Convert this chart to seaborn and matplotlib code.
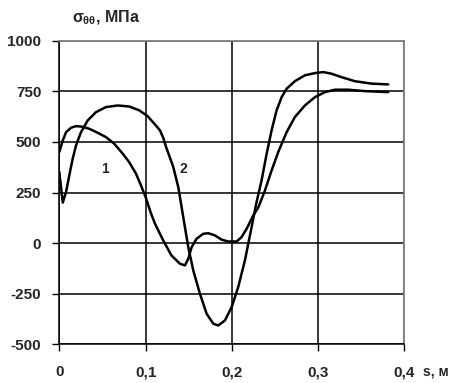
import matplotlib
matplotlib.use("Agg")
import matplotlib.pyplot as plt
import seaborn as sns
import pandas as pd

# Curve 1: hoop stress along the coordinate s
s_curve1 = [0.000, 0.004, 0.0078, 0.0136, 0.0194, 0.0251, 0.0348, 0.0445, 0.054, 0.0637,
            0.0735, 0.081, 0.0889, 0.0947, 0.1005, 0.106, 0.1109, 0.1205, 0.130, 0.1399,
            0.1457, 0.1495, 0.1534, 0.1592, 0.1669, 0.1727, 0.1804, 0.1882, 0.1958, 0.2056,
            0.2113, 0.2172, 0.2248, 0.2306, 0.2384, 0.2461, 0.2538, 0.2635, 0.2731, 0.2847,
            0.2963, 0.3079, 0.3195, 0.3349, 0.3542, 0.3813]
sigma_curve1 = [450, 507, 548, 570, 578, 576, 565, 545, 524, 491,
                442, 400, 343, 285, 222, 150, 96, 13, -61, -102,
                -110, -77, -20, 22, 46, 49, 38, 17, 8, 8,
                30, 71, 137, 175, 260, 359, 450, 548, 623, 680,
                721, 746, 758, 758, 751, 746]

# Curve 2
s_curve2 = [0.000, 0.004, 0.0078, 0.0116, 0.0155, 0.0194, 0.0251, 0.0329, 0.0425, 0.054,
            0.0677, 0.081, 0.0927, 0.1024, 0.112, 0.1167, 0.1205, 0.1240, 0.132, 0.138,
            0.1437, 0.1495, 0.1553, 0.163, 0.1708, 0.1785, 0.1842, 0.192, 0.1998, 0.2074,
            0.2152, 0.2229, 0.2287, 0.2345, 0.2403, 0.2461, 0.2519, 0.2577, 0.2635, 0.2731,
            0.2847, 0.2963, 0.306, 0.3156, 0.3272, 0.3426, 0.362, 0.3813]
sigma_curve2 = [351, 200, 252, 335, 417, 483, 548, 606, 647, 672,
                680, 675, 656, 627, 581, 557, 520, 472, 378, 275,
                128, -20, -135, -250, -349, -398, -407, -382, -316, -217,
                -85, 79, 203, 310, 440, 557, 656, 721, 763, 800,
                829, 840, 845, 837, 820, 800, 788, 784]

x_ticks = [0.0, 0.1, 0.2, 0.3, 0.4]
x_tick_labels = ["0", "0,1", "0,2", "0,3", "0,4"]
y_ticks = [-500, -250, 0, 250, 500, 750, 1000]
y_tick_labels = ["-500", "-250", "0", "250", "500", "750", "1000"]

curve_labels = ["1", "2"]
curve_label_pos = [(0.053, 368), (0.1437, 368)]

df = pd.concat([
    pd.DataFrame({"s": s_curve1, "sigma": sigma_curve1, "curve": "1"}),
    pd.DataFrame({"s": s_curve2, "sigma": sigma_curve2, "curve": "2"}),
], ignore_index=True)

sns.set_theme(style="white")
plt.rcParams["font.family"] = ["Liberation Sans", "DejaVu Sans"]
plt.rcParams["font.weight"] = "bold"
plt.rcParams["mathtext.fontset"] = "custom"
plt.rcParams["mathtext.rm"] = "Liberation Sans:bold"
plt.rcParams["mathtext.it"] = "Liberation Sans:bold"
plt.rcParams["mathtext.bf"] = "Liberation Sans:bold"
plt.rcParams["lines.solid_joinstyle"] = "round"
plt.rcParams["lines.solid_capstyle"] = "round"

fig = plt.figure(figsize=(4.62, 3.83), dpi=100)
ax = fig.add_axes([0.1284, 0.1010, 0.7468, 0.7927])

sns.lineplot(data=df, x="s", y="sigma", units="curve", estimator=None, sort=False,
             color="black", linewidth=1.8, ax=ax, legend=False)

ax.set_xlim(0, 0.4)
ax.set_ylim(-500, 1000)
ax.set_xticks(x_ticks)
ax.set_xticklabels(x_tick_labels, fontsize=11, fontweight="bold")
ax.set_yticks(y_ticks)
ax.set_yticklabels(y_tick_labels, fontsize=11, fontweight="bold")
ax.set_xlabel("")
ax.set_ylabel("")

ax.grid(True, color="black", linewidth=1.1)
ax.set_axisbelow(True)
for side in ("left", "bottom"):
    ax.spines[side].set_color("black")
    ax.spines[side].set_linewidth(1.1)
for side in ("top", "right"):
    ax.spines[side].set_color("#808080")
    ax.spines[side].set_linewidth(1.3)

ax.tick_params(axis="both", direction="out", length=5, width=1.0, color="black",
               left=True, bottom=True)
ax.tick_params(axis="x", pad=10)
ax.tick_params(axis="y", pad=8)

for lab, (lx, ly) in zip(curve_labels, curve_label_pos):
    ax.text(lx, ly, lab, fontsize=10, fontweight="bold", ha="center", va="center")

fig.text(0.156, 0.953, r"$\sigma_{\theta\theta}$, МПа", fontsize=11.5, fontweight="bold",
         ha="left", va="center")
fig.text(0.915, 0.030, "s, м", fontsize=10, fontweight="bold", ha="left", va="center")

fig.savefig("out.png", dpi=100)
